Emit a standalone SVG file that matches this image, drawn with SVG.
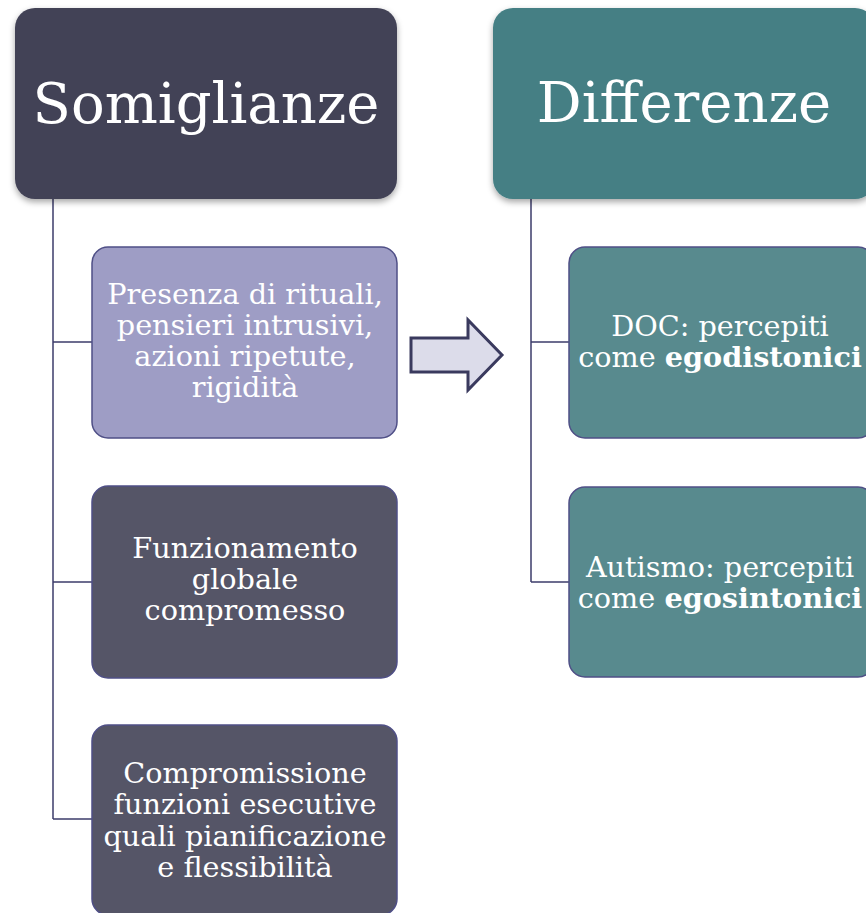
<svg xmlns="http://www.w3.org/2000/svg" width="866" height="913" viewBox="0 0 866 913">
<defs>
<filter id="sh" x="-10%" y="-10%" width="120%" height="130%">
<feDropShadow dx="0" dy="3" stdDeviation="3" flood-color="#000" flood-opacity="0.35"/>
</filter>
<style>
.t{font-family:"DejaVu Serif","Liberation Serif",serif;fill:#fff;text-anchor:middle}
.h{font-size:56px}
.b{font-size:28.7px}
.bb{font-weight:bold}
.c{fill:none;stroke:#3d3d6b;stroke-width:1.5}
.box{stroke:#4f4f86;stroke-width:1.5}
</style>
</defs>
<g id="connectors">
<path class="c" d="M53 199V819M53 342H92M53 582H92M53 819H92"/>
<path class="c" d="M531 199V582M531 342H569M531 582H569"/>
</g>
<g id="somiglianze">
<rect x="15" y="8" width="382" height="191" rx="20" fill="#434357" filter="url(#sh)"/>
<text class="t h" x="206" y="123">Somiglianze</text>
</g>
<g id="differenze">
<rect x="493" y="8" width="382" height="191" rx="20" fill="#447f84" filter="url(#sh)"/>
<text class="t h" x="684" y="122">Differenze</text>
</g>
<g id="presenza">
<rect class="box" x="92" y="247" width="305" height="191" rx="16" fill="#9e9dc5"/>
<text class="t b" x="245" y="304">Presenza di rituali,</text>
<text class="t b" x="245" y="335">pensieri intrusivi,</text>
<text class="t b" x="245" y="366">azioni ripetute,</text>
<text class="t b" x="245" y="397">rigidità</text>
</g>
<g id="funzionamento">
<rect class="box" x="92" y="486" width="305" height="192" rx="16" fill="#555567"/>
<text class="t b" x="245" y="558">Funzionamento</text>
<text class="t b" x="245" y="589">globale</text>
<text class="t b" x="245" y="620">compromesso</text>
</g>
<g id="compromissione">
<rect class="box" x="92" y="725" width="305" height="190" rx="16" fill="#555567"/>
<text class="t b" x="245" y="783">Compromissione</text>
<text class="t b" x="245" y="814">funzioni esecutive</text>
<text class="t b" x="245" y="846">quali pianificazione</text>
<text class="t b" x="245" y="877">e flessibilità</text>
</g>
<g id="freccia">
<polygon points="411,338 468,338 468,320 502,355 468,390 468,372 411,372" fill="#dcdcea" stroke="#3a3a5e" stroke-width="3" stroke-linejoin="miter"/>
</g>
<g id="doc">
<rect class="box" x="569" y="247" width="305" height="191" rx="16" fill="#588a8e"/>
<text class="t b" x="720" y="336">DOC: percepiti</text>
<text class="t b" x="720" y="367">come <tspan class="bb">egodistonici</tspan></text>
</g>
<g id="autismo">
<rect class="box" x="569" y="487" width="305" height="190" rx="16" fill="#588a8e"/>
<text class="t b" x="720" y="577">Autismo: percepiti</text>
<text class="t b" x="720" y="608">come <tspan class="bb">egosintonici</tspan></text>
</g>
</svg>
